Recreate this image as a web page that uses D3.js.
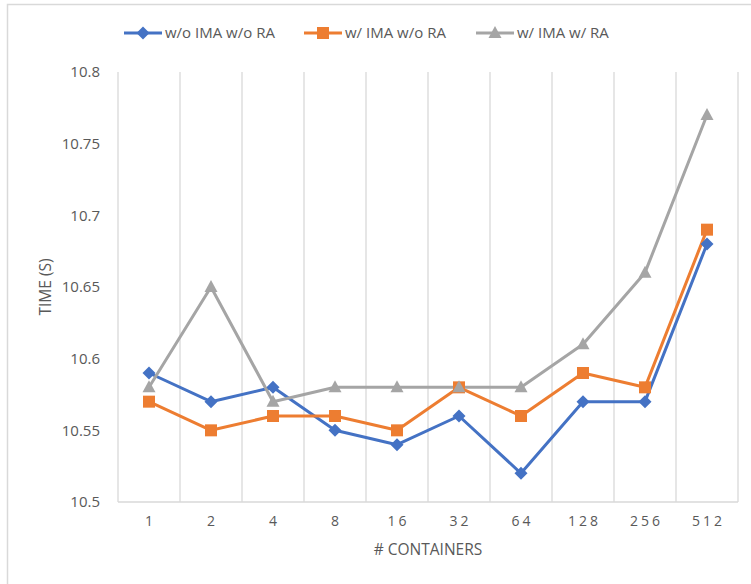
<!DOCTYPE html>
<html>
<head>
<meta charset="utf-8">
<script src="https://cdn.jsdelivr.net/npm/d3@7"></script>
<style>
  html, body { margin: 0; padding: 0; background: #fff; }
  svg { display: block; font-family: "Open Sans", "Liberation Sans", sans-serif; }
</style>
</head>
<body>
<svg id="chart" width="751" height="584"></svg>
<script>
// Container counts on the x axis
const containers = ["1", "2", "4", "8", "16", "32", "64", "128", "256", "512"];

// Completion time (s) per configuration
const seriesNames = ["w/o IMA w/o RA", "w/ IMA w/o RA", "w/ IMA w/ RA"];
const noImaNoRa = [10.59, 10.57, 10.58, 10.55, 10.54, 10.56, 10.52, 10.57, 10.57, 10.68];
const imaNoRa   = [10.57, 10.55, 10.56, 10.56, 10.55, 10.58, 10.56, 10.59, 10.58, 10.69];
const imaRa     = [10.58, 10.65, 10.57, 10.58, 10.58, 10.58, 10.58, 10.61, 10.66, 10.77];

const yTicks = [10.5, 10.55, 10.6, 10.65, 10.7, 10.75, 10.8];

const seriesColors = ["#4472C4", "#ED7D31", "#A5A5A5"];

// Marker shapes: a square diamond, a square and a triangle
const diamondPath = "M0,-6.5L6.5,0L0,6.5L-6.5,0Z";
const squarePath = "M-6,-6L6,-6L6,6L-6,6Z";
const trianglePath = "M0,-7L6.5,5L-6.5,5Z";
const seriesMarkers = [diamondPath, squarePath, trianglePath];

const series = [noImaNoRa, imaNoRa, imaRa].map((values, i) => ({
  name: seriesNames[i], values, color: seriesColors[i], marker: seriesMarkers[i]
}));

const svg = d3.select("#chart");
const textColor = "#595959";
const gridColor = "#D9D9D9";

// Chart border (only top and left edges fall inside the canvas)
svg.append("rect")
  .attr("x", 7.5).attr("y", 4.5)
  .attr("width", 800).attr("height", 700)
  .attr("fill", "none").attr("stroke", gridColor).attr("stroke-width", 1.5);

const plot = { left: 118, right: 738, top: 72, bottom: 502 };

const x = d3.scaleBand().domain(containers).range([plot.left, plot.right]).padding(0);
const y = d3.scaleLinear().domain([10.5, 10.8]).range([plot.bottom, plot.top]);

const g = svg.append("g");

// Vertical gridlines at category boundaries
const bounds = containers.map(c => x(c)).concat([plot.right]);
g.selectAll(".vgrid").data(bounds).enter().append("line")
  .attr("x1", d => d).attr("x2", d => d)
  .attr("y1", plot.top).attr("y2", plot.bottom)
  .attr("stroke", gridColor).attr("stroke-width", 1.3);

// Category axis line
g.append("line")
  .attr("x1", plot.left).attr("x2", plot.right)
  .attr("y1", plot.bottom).attr("y2", plot.bottom)
  .attr("stroke", gridColor).attr("stroke-width", 1.3);

// Y tick labels
const yAxis = d3.axisLeft(y).tickValues(yTicks).tickSize(0).tickPadding(18)
  .tickFormat(d => String(+d.toFixed(2)));
const yg = svg.append("g").attr("transform", `translate(${plot.left},0)`).call(yAxis);
yg.select(".domain").remove();
yg.selectAll("text").attr("fill", textColor).attr("font-size", 15)
  .attr("font-family", "'Open Sans', sans-serif");

// X tick labels (letter-spaced)
const xAxis = d3.axisBottom(x).tickSize(0).tickPadding(14);
const xg = svg.append("g").attr("transform", `translate(0,${plot.bottom})`).call(xAxis);
xg.select(".domain").remove();
xg.selectAll("text").attr("fill", textColor).attr("font-size", 14)
  .attr("letter-spacing", "3px")
  .attr("dx", "1.5px")
  .attr("font-family", "'Open Sans', sans-serif");

// Axis titles
svg.append("text")
  .attr("x", (plot.left + plot.right) / 2).attr("y", 555)
  .attr("text-anchor", "middle").attr("fill", textColor).attr("font-size", 15.5)
  .text("# CONTAINERS");

svg.append("text")
  .attr("transform", `translate(51,${(plot.top + plot.bottom) / 2}) rotate(-90)`)
  .attr("text-anchor", "middle").attr("fill", textColor).attr("font-size", 15.5)
  .text("TIME (S)");

// Lines and markers
const cx = c => x(c) + x.bandwidth() / 2;
const line = d3.line().x((d, i) => cx(containers[i])).y(d => y(d));

series.forEach(s => {
  g.append("path").datum(s.values)
    .attr("d", line).attr("fill", "none")
    .attr("stroke", s.color).attr("stroke-width", 3)
    .attr("stroke-linejoin", "round");
});
series.forEach(s => {
  g.selectAll(null).data(s.values).enter().append("path")
    .attr("d", s.marker)
    .attr("transform", (d, i) => `translate(${cx(containers[i])},${y(d)})`)
    .attr("fill", s.color);
});

// Legend
const legendX = [124, 304, 476];
const legendY = 33;
series.forEach((s, i) => {
  const lg = svg.append("g").attr("transform", `translate(${legendX[i]},${legendY})`);
  lg.append("line").attr("x1", 0).attr("x2", 38).attr("y1", 0).attr("y2", 0)
    .attr("stroke", s.color).attr("stroke-width", 3);
  lg.append("path").attr("d", s.marker)
    .attr("transform", "translate(19,0)").attr("fill", s.color);
  lg.append("text").attr("x", 41).attr("y", 0).attr("dy", "0.35em")
    .attr("fill", textColor).attr("font-size", 15).text(s.name);
});
</script>
</body>
</html>
